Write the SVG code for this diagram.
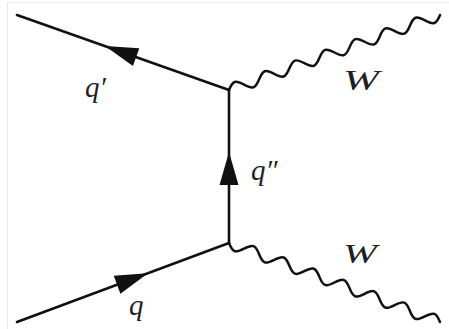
<svg xmlns="http://www.w3.org/2000/svg" width="449" height="329" viewBox="0 0 449 329">
  <style>
    .line { stroke: #111; stroke-width: 2.6; fill: none; stroke-linecap: round; }
    .wave { stroke: #111; stroke-width: 2.5; fill: none; stroke-linecap: round; stroke-linejoin: round; }
    .arrow { fill: #111; }
    .lbl { font-family: 'Liberation Serif', 'Times New Roman', serif; font-style: italic; fill: #1e1e28; }
  </style>
  <defs>
    <path id="arrowhead" class="arrow" d="M0,0 L-33,-9.5 L-33,9.5 Z"/>
  </defs>
  <rect x="7.5" y="2.5" width="460" height="340" fill="#ffffff" stroke="#e6e6e6" stroke-width="1"/>

  <g id="connectors">
    <line id="q-prime-line" class="line" x1="17" y1="15" x2="229" y2="90"/>
    <line id="q-dprime-line" class="line" x1="229" y1="90" x2="229" y2="243"/>
    <line id="q-line" class="line" x1="17" y1="322" x2="229" y2="243"/>
    <path id="W-top" class="wave" transform="translate(229,90) rotate(-19.57)" d="M0,0 c6.79,-7.5 9.21,-7.5 16,0 s9.21,7.5 16,0 s9.21,-7.5 16,0 s9.21,7.5 16,0 s9.21,-7.5 16,0 s9.21,7.5 16,0 s9.21,-7.5 16,0 s9.21,7.5 16,0 s9.21,-7.5 16,0 s9.21,7.5 16,0 s9.21,-7.5 16,0 s9.21,7.5 16,0 s9.21,-7.5 16,0 s9.21,7.5 16,0"/>
    <path id="W-bottom" class="wave" transform="translate(229,243) rotate(20.53)" d="M0,0 c6.83,7.5 9.26,7.5 16.09,0 s9.26,-7.5 16.09,0 s9.26,7.5 16.09,0 s9.26,-7.5 16.09,0 s9.26,7.5 16.09,0 s9.26,-7.5 16.09,0 s9.26,7.5 16.09,0 s9.26,-7.5 16.09,0 s9.26,7.5 16.09,0 s9.26,-7.5 16.09,0 s9.26,7.5 16.09,0 s9.26,-7.5 16.09,0 s9.26,7.5 16.09,0 s9.26,-7.5 16.09,0"/>
    <use href="#arrowhead" transform="translate(105,46.1) rotate(199.48)"/>
    <use href="#arrowhead" transform="translate(229,152) rotate(-90)"/>
    <use href="#arrowhead" transform="translate(148,273.2) rotate(-20.44)"/>
  </g>

  <g id="label-q-prime">
    <text class="lbl" x="85" y="97" font-size="29">q′</text>
  </g>
  <g id="label-q-dprime">
    <text class="lbl" x="251" y="180" font-size="29">q″</text>
  </g>
  <g id="label-q">
    <text class="lbl" x="129" y="315" font-size="29">q</text>
  </g>
  <g id="label-W-top">
    <text class="lbl" x="343" y="90" font-size="29" textLength="36" lengthAdjust="spacingAndGlyphs">W</text>
  </g>
  <g id="label-W-bottom">
    <text class="lbl" x="343" y="263" font-size="28" textLength="34" lengthAdjust="spacingAndGlyphs">W</text>
  </g>
</svg>
